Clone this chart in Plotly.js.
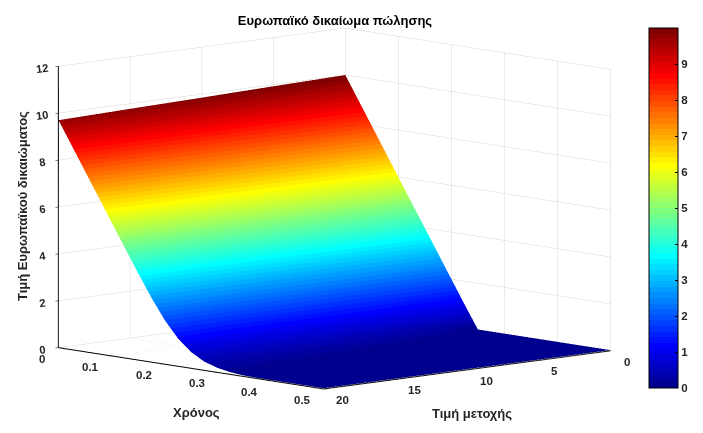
<!DOCTYPE html>
<html><head><meta charset="utf-8">
<script src="https://cdn.plot.ly/plotly-3.0.1.min.js"></script>
<style>html,body{margin:0;padding:0;background:#fff}#c{width:703px;height:433px}</style>
</head><body><div id="c"></div>
<script>
const timeVals=[0,0.025,0.05,0.075,0.1,0.125,0.15,0.175,0.2,0.225,0.25,0.275,0.3,0.325,0.35,0.375,0.4,0.425,0.45,0.475,0.5];
const priceVals=[0,5,10,15,20];
const rowPrice0=[10,9,8,7,6,5,4,3,2,1,0.03,0.03,0.03,0.03,0.03,0.03,0.03,0.03,0.03,0.03,0.03];
const rowPrice5=[9.93,8.93,7.93,6.93,5.93,4.93,3.93,2.93,1.93,1.02,0.38,0.10,0.03,0.03,0.03,0.03,0.03,0.03,0.03,0.03,0.03];
const rowPrice10=[9.85,8.85,7.85,6.85,5.85,4.85,3.85,2.86,1.90,1.09,0.52,0.21,0.07,0.03,0.03,0.03,0.03,0.03,0.03,0.03,0.03];
const rowPrice15=[9.78,8.78,7.78,6.78,5.78,4.78,3.78,2.79,1.89,1.14,0.62,0.30,0.13,0.05,0.03,0.03,0.03,0.03,0.03,0.03,0.03];
const rowPrice20=[9.70,8.70,7.70,6.70,5.70,4.70,3.71,2.75,1.89,1.19,0.69,0.37,0.19,0.09,0.04,0.03,0.03,0.03,0.03,0.03,0.03];
const zTicks=[0,2,4,6,8,10,12];
const barTicks=[0,1,2,3,4,5,6,7,8,9];
const timeTicks=[0,0.1,0.2,0.3,0.4,0.5];
const priceTicks=[0,5,10,15,20];
const jetStops=[[0,[0,0,143]],[0.111,[0,0,255]],[0.365,[0,255,255]],[0.619,[255,255,0]],[0.873,[255,0,0]],[1,[128,0,0]]];
function jet(t){for(let i=1;i<jetStops.length;i++){if(t<=jetStops[i][0]){const a=jetStops[i-1],b=jetStops[i],f=(t-a[0])/(b[0]-a[0]);return 'rgb('+a[1].map((v,k)=>Math.round(v+(b[1][k]-v)*f)).join(',')+')';}}return 'rgb(128,0,0)';}
const levels=64,scale=[];
for(let i=0;i<levels;i++){const c=jet(i/(levels-1));scale.push([i/levels,c]);scale.push([(i+1)/levels,c]);}
const axisFont={family:'Liberation Sans',size:11.5,color:'#262626',weight:'bold'};
const titleFont={family:'Liberation Sans',size:13,color:'#262626',weight:'bold'};
function axis(range,ticks,labels){return{range:range,tickvals:ticks,ticktext:ticks.map(String),showticklabels:labels,title:{text:''},tickfont:axisFont,showgrid:true,gridcolor:'#d8d8d8',gridwidth:1,showline:true,linecolor:'#000',linewidth:2,ticks:'outside',ticklen:4,tickcolor:'#000',zeroline:false,showbackground:false,showspikes:false};}
const trace={type:'surface',x:timeVals,y:priceVals,z:[rowPrice0,rowPrice5,rowPrice10,rowPrice15,rowPrice20],cmin:0,cmax:10,colorscale:scale,hoverinfo:'skip',
lighting:{ambient:1,diffuse:0,specular:0,roughness:1,fresnel:0},
contours:{x:{show:false},y:{show:false},z:{show:false}},
colorbar:{thicknessmode:'pixels',thickness:29,lenmode:'pixels',len:360,x:649/703,xanchor:'left',y:1-28/433,yanchor:'top',outlinecolor:'#000',outlinewidth:1,ticks:'inside',ticklen:3,tickcolor:'#000',tickvals:barTicks,ticktext:barTicks.map(String),tickfont:axisFont,xpad:0,ypad:0}};
function note(text,x,y,angle){return{text:text,xref:'paper',yref:'paper',x:x/703,y:1-y/433,xanchor:'center',yanchor:'middle',showarrow:false,textangle:angle||0,font:titleFont};}
function tickNote(x,y,text,dx,dy){return{x:x,y:y,z:0,text:text,showarrow:false,xanchor:'center',yanchor:'middle',xshift:dx,yshift:dy,font:axisFont};}
const sceneNotes=timeTicks.map(t=>tickNote(t,20,String(t),t===0?-16:-21,-11))
 .concat(priceTicks.map(p=>tickNote(0.5,p,String(p),p>=10?19:16,-11)));
const layout={width:703,height:433,margin:{l:0,r:0,t:0,b:0},paper_bgcolor:'#fff',font:{family:'Liberation Sans'},
title:{text:'Ευρωπαϊκό δικαίωμα πώλησης',font:{family:'Liberation Sans',size:13,color:'#000',weight:'bold'},x:335/703,xanchor:'center',y:1-20/433,yanchor:'middle'},
annotations:[note('Χρόνος',196,412),note('Τιμή μετοχής',472,413),note('Τιμή Ευρωπαϊκού δικαιώματος',23,206,-90)],
scene:{domain:{x:[0,669/703],y:[16/433,1]},aspectmode:'manual',aspectratio:{x:1.874,y:1.874,z:1.364},
camera:{projection:{type:'orthographic'},center:{x:0,y:0,z:0},up:{x:0,y:0,z:1},eye:{x:1.45,y:-1.34,z:0.287}},
annotations:sceneNotes,
xaxis:axis([0,0.5],timeTicks,false),yaxis:axis([20,0],priceTicks,false),zaxis:axis([0,12],zTicks,true)}};
Plotly.newPlot('c',[trace],layout,{displayModeBar:false,responsive:false});
</script></body></html>
